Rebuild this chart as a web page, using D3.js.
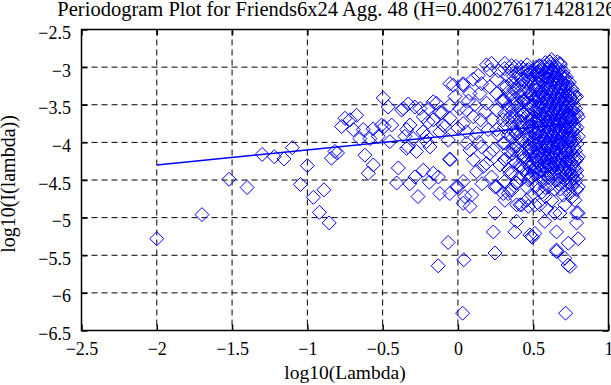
<!DOCTYPE html>
<html>
<head>
<meta charset="utf-8">
<script src="https://cdn.jsdelivr.net/npm/d3@7"></script>
<style>
  body { margin: 0; background: #fff; }
  svg { display: block; }
  text { font-family: "Liberation Serif", "Times New Roman", serif; fill: #000; }
</style>
</head>
<body>
<div id="chart"></div>
<script>
const titleText = "Periodogram Plot for Friends6x24 Agg. 48 (H=0.4002761714281263)";
const xLabel = "log10(Lambda)";
const yLabel = "log10(I(lambda))";
const xTicks = [-2.5, -2, -1.5, -1, -0.5, 0, 0.5, 1];
const yTicks = [-2.5, -3, -3.5, -4, -4.5, -5, -5.5, -6, -6.5];

// sparse low frequencies, [log10(lambda), log10(I)]
const lowFreq = [
  [-2.00,-5.28],[-1.70,-4.96],[-1.52,-4.49],[-1.40,-4.60],[-1.30,-4.16],[-1.22,-4.19],
  [-1.155,-4.22],[-1.10,-4.07],[-1.046,-4.56],[-1.00,-4.31],[-0.96,-4.73],[-0.92,-4.93],
  [-0.89,-4.63],[-0.855,-5.07],[-0.84,-4.21],[-0.817,-4.12],[-0.80,-4.14],[-0.773,-3.79],
  [-0.75,-3.68],[-0.717,-3.70],[-0.695,-3.83],[-0.673,-3.64],[-0.651,-3.95],[-0.629,-3.83],
  [-0.618,-4.17],[-0.595,-4.41],[-0.584,-3.95],[-0.563,-3.82],[-0.562,-4.30],[-0.529,-3.92],
  [-0.507,-3.77],[-0.496,-3.41],[-0.49,-3.79],[-0.463,-3.53],[-0.452,-3.99],[-0.44,-3.77],
  [-0.407,-4.54],[-0.396,-4.34],[-0.374,-3.57],[-0.363,-3.55],[-0.352,-3.92],[-0.341,-4.08],
  [-0.34,-3.83],[-0.33,-4.06],[-0.32,-4.55],[-0.319,-3.77],[-0.33,-3.49],[-0.297,-3.95],
  [-0.286,-4.46],[-0.286,-3.53],[-0.275,-4.12],[-0.265,-4.72],[-0.252,-3.55],[-0.231,-3.86],
  [-0.23,-3.66],[-0.23,-4.37],[-0.209,-3.99],[-0.208,-3.92],[-0.197,-3.73],[-0.197,-3.55],
  [-0.19,-4.53],[-0.186,-4.06],[-0.164,-3.46],[-0.164,-3.70],[-0.164,-4.41],[-0.142,-3.48],
  [-0.131,-5.64],[-0.13,-4.46],[-0.12,-3.60],[-0.12,-3.86],[-0.12,-4.68],[-0.108,-3.61],
  [-0.098,-3.77],[-0.086,-3.79],[-0.065,-5.33],[-0.064,-3.97],[-0.054,-3.68],[-0.054,-3.51],
  [-0.054,-4.22],[-0.054,-4.68],[-0.053,-3.22],[-0.053,-4.23],[-0.031,-3.24],[-0.02,-3.39],
  [-0.009,-4.59],[0.0,-3.81]
];

// middle frequencies, read one by one
const midFreq = [
  [0.035,-3.24],[0.012,-3.55],[0.035,-3.22],[0.057,-3.86],[0.039,-5.56],[0.031,-6.27],
  [0.035,-4.81],[0.046,-4.72],[0.035,-4.52],[0.0,-4.59],[0.08,-4.85],[0.091,-4.70],
  [0.102,-3.16],[0.08,-3.35],[0.146,-3.35],[0.157,-3.22],[0.19,-2.97],[0.223,-2.95],
  [0.212,-3.04],[0.212,-3.26],[0.257,-3.17],[0.19,-3.48],[0.257,-3.57],[0.057,-3.57],
  [0.035,-3.75],[0.102,-3.66],[0.124,-3.88],[0.201,-3.83],[0.057,-4.01],[0.157,-4.06],
  [0.235,-4.10],[0.19,-4.28],[0.168,-4.32],[0.102,-4.23],[0.124,-4.39],[0.223,-4.46],
  [0.257,-4.59],[0.246,-4.94],[0.235,-5.19],[0.246,-5.47],[0.246,-4.59],[0.257,-3.35],
  [0.257,-3.83],[0.135,-3.11],[0.07,-3.45],[0.11,-3.50],[0.15,-3.70],[0.18,-3.60],
  [0.23,-3.70],[0.27,-3.90],[0.28,-4.30],[0.21,-4.15],[0.14,-4.00],[0.08,-4.10],
  [0.29,-3.45],[0.16,-4.55],[0.27,-3.05],
  [0.312,-2.95],[0.356,-2.98],[0.39,-3.08],[0.323,-3.26],[0.301,-3.44],[0.301,-3.70],
  [0.301,-4.01],[0.312,-4.23],[0.312,-4.77],[0.334,-4.68],[0.301,-4.68],[0.345,-4.63],
  [0.345,-4.41],[0.39,-4.54],[0.39,-4.83],[0.423,-4.83],[0.456,-4.77],[0.467,-4.85],
  [0.412,-4.83],[0.39,-5.05],[0.378,-5.19],[0.478,-5.23],[0.489,-5.25],[0.495,-5.26],
  [0.489,-4.46],[0.478,-4.48],[0.493,-4.45],[0.511,-4.83],[0.489,-4.70],[0.434,-4.23],
  [0.345,-3.66],[0.39,-3.48],[0.434,-3.44],[0.456,-3.22],[0.423,-3.73],[0.478,-3.79],
  [0.478,-4.06],[0.39,-3.88],[0.367,-4.10],[0.456,-3.04]
];

// dense upper band, each column: [log10(lambda), [log10(I) values]]
const denseCols = [
  [0.31, [-3.02,-3.26,-3.44,-3.62,-3.80,-4.01,-4.23,-4.52]],
  [0.335,[-3.12,-3.33,-3.52,-3.70,-3.90,-4.12,-4.36]],
  [0.36, [-3.05,-3.20,-3.40,-3.58,-3.76,-3.95,-4.15,-4.41,-4.63]],
  [0.37, [-3.12,-3.30,-3.49,-3.67,-3.86,-4.05,-4.25]],
  [0.385,[-2.99,-3.15,-3.30,-3.49,-3.67,-3.86,-4.05,-4.27,-4.54]],
  [0.41, [-3.09,-3.24,-3.38,-3.56,-3.72,-3.91,-4.10,-4.30,-4.47]],
  [0.42, [-3.00,-3.16,-3.31,-3.47,-3.64,-3.80,-3.96,-4.14,-4.32]],
  [0.435,[-3.03,-3.18,-3.33,-3.46,-3.63,-3.81,-3.99,-4.19,-4.36]],
  [0.46, [-2.97,-3.11,-3.27,-3.42,-3.57,-3.74,-3.90,-4.08,-4.25,-4.42,-4.60]],
  [0.47, [-3.03,-3.17,-3.31,-3.48,-3.63,-3.79,-3.95,-4.12,-4.29,-4.50]],
  [0.48, [-3.07,-3.20,-3.36,-3.52,-3.69,-3.84,-4.02,-4.17,-4.33]],
  [0.50, [-3.05,-3.22,-3.38,-3.51,-3.67,-3.80,-3.96,-4.12,-4.27,-4.40]],
  [0.51, [-3.10,-3.27,-3.44,-3.59,-3.73,-3.88,-4.04,-4.20,-4.35]],
  [0.52, [-3.00,-3.15,-3.31,-3.46,-3.60,-3.74,-3.89,-4.03,-4.19,-4.33,-4.58]],
  [0.53, [-3.06,-3.22,-3.37,-3.53,-3.66,-3.81,-3.95,-4.10,-4.26,-4.41]],
  [0.54, [-2.98,-3.10,-3.27,-3.41,-3.55,-3.70,-3.85,-3.99,-4.14,-4.29,-4.45]],
  [0.55, [-3.03,-3.16,-3.33,-3.47,-3.62,-3.76,-3.91,-4.06,-4.21,-4.36]],
  [0.56, [-3.04,-3.19,-3.34,-3.48,-3.63,-3.77,-3.92,-4.07,-4.22,-4.38,-4.52,-4.66]],
  [0.57, [-2.99,-3.12,-3.27,-3.41,-3.56,-3.70,-3.85,-4.00,-4.15,-4.30,-4.47]],
  [0.58, [-2.94,-3.12,-3.25,-3.40,-3.53,-3.69,-3.83,-3.97,-4.11,-4.26,-4.42,-4.60,-4.72]],
  [0.59, [-3.07,-3.21,-3.36,-3.49,-3.63,-3.78,-3.92,-4.07,-4.21,-4.37]],
  [0.60, [-3.02,-3.17,-3.30,-3.45,-3.58,-3.72,-3.87,-4.01,-4.16,-4.31,-4.47]],
  [0.61, [-3.00,-3.13,-3.27,-3.41,-3.55,-3.69,-3.83,-3.98,-4.13,-4.28,-4.42]],
  [0.62, [-2.96,-3.09,-3.23,-3.37,-3.50,-3.65,-3.79,-3.94,-4.08,-4.23,-4.36,-4.55]],
  [0.63, [-3.05,-3.19,-3.33,-3.47,-3.60,-3.75,-3.90,-4.04,-4.18,-4.33]],
  [0.64, [-3.01,-3.14,-3.28,-3.43,-3.56,-3.71,-3.85,-3.99,-4.13,-4.28,-4.43,-4.62]],
  [0.65, [-2.98,-3.11,-3.25,-3.39,-3.53,-3.67,-3.81,-3.95,-4.10,-4.24,-4.39]],
  [0.66, [-2.93,-3.07,-3.20,-3.35,-3.49,-3.62,-3.76,-3.90,-4.05,-4.19,-4.34,-4.50]],
  [0.67, [-3.03,-3.16,-3.30,-3.44,-3.58,-3.72,-3.86,-4.00,-4.15,-4.29,-4.45]],
  [0.68, [-2.97,-3.11,-3.26,-3.39,-3.54,-3.68,-3.82,-3.96,-4.10,-4.25,-4.40,-4.62]],
  [0.69, [-3.08,-3.23,-3.37,-3.51,-3.65,-3.79,-3.93,-4.07,-4.22,-4.36]],
  [0.70, [-3.06,-3.21,-3.33,-3.47,-3.61,-3.75,-3.89,-4.04,-4.17,-4.32,-4.46,-4.70]],
  [0.71, [-3.15,-3.30,-3.44,-3.58,-3.72,-3.87,-4.01,-4.15,-4.30,-4.50]],
  [0.72, [-3.13,-3.27,-3.42,-3.55,-3.70,-3.84,-3.98,-4.12,-4.27,-4.41,-4.56]],
  [0.73, [-3.22,-3.38,-3.52,-3.66,-3.80,-3.95,-4.09,-4.24,-4.39]],
  [0.74, [-3.20,-3.34,-3.48,-3.63,-3.77,-3.91,-4.06,-4.21,-4.35,-4.49,-4.68]],
  [0.75, [-3.28,-3.41,-3.55,-3.69,-3.83,-3.97,-4.12,-4.26,-4.41,-4.55]],
  [0.76, [-3.30,-3.44,-3.58,-3.72,-3.86,-4.00,-4.15,-4.29,-4.44,-4.58,-4.72]],
  [0.77, [-3.36,-3.50,-3.64,-3.78,-3.92,-4.06,-4.20,-4.34,-4.48]],
  [0.78, [-3.40,-3.55,-3.69,-3.83,-3.97,-4.11,-4.25,-4.39,-4.52]],
  [0.79, [-3.62,-3.80,-4.02,-4.22,-4.45]]
];

// extra points inside the solid core of the cloud
const coreCols = [
  [0.525,[-3.08,-3.40,-3.70,-3.98,-4.24]],
  [0.565,[-3.10,-3.38,-3.66,-3.95,-4.18]],
  [0.595,[-3.14,-3.43,-3.74,-4.04,-4.28]],
  [0.625,[-3.06,-3.34,-3.62,-3.92,-4.20]],
  [0.655,[-3.13,-3.41,-3.70,-3.99,-4.27]],
  [0.685,[-3.18,-3.46,-3.74,-4.02,-4.30]],
  [0.715,[-3.24,-3.52,-3.80,-4.09,-4.36]],
  [0.745,[-3.38,-3.66,-3.94,-4.18]]
];

// high frequency outliers around the dense band
const highFreq = [
  [0.544,-2.99],[0.611,-2.93],[0.677,-2.95],[0.622,-2.90],[0.70,-3.13],[0.788,-3.39],
  [0.799,-3.66],[0.799,-3.92],[0.799,-4.19],[0.788,-4.37],[0.788,-4.63],[0.799,-4.59],
  [0.799,-4.94],[0.788,-5.07],[0.799,-5.28],[0.733,-5.34],[0.71,-5.54],[0.732,-5.63],
  [0.744,-5.65],[0.715,-6.27],[0.655,-5.45],[0.655,-5.19],[0.577,-5.05],[0.511,-5.21],
  [0.788,-4.94],[0.644,-4.94],[0.544,-4.83],[0.622,-4.77],[0.71,-4.83],[0.777,-4.77],
  [0.533,-4.63],[0.60,-4.59],[0.732,-4.63],[0.589,-4.88],[0.677,-4.94],[0.655,-5.43],
  [0.67,-4.55]
];

// least squares line, slope 1-2H
const fitLine = [[-2.0, -4.30], [0.8, -3.74]];

const width = 611, height = 385;
const margins = { top: 29.5, right: 2.5, bottom: 54.5, left: 81.5 };
const plotW = width - margins.left - margins.right;
const plotH = height - margins.top - margins.bottom;

const svg = d3.select("#chart").append("svg")
  .attr("width", width)
  .attr("height", height);

const g = svg.append("g")
  .attr("transform", "translate(" + margins.left + "," + margins.top + ")");

const x = d3.scaleLinear().domain([-2.5, 1]).range([0, plotW]);
const y = d3.scaleLinear().domain([-6.5, -2.5]).range([plotH, 0]);

const fmt = d => String(d).replace("-", "\u2212");

// dashed grid
g.append("g").selectAll("line")
  .data(xTicks.slice(1, -1))
  .enter().append("line")
  .attr("x1", d => x(d)).attr("x2", d => x(d))
  .attr("y1", 0).attr("y2", plotH)
  .attr("stroke", "#000").attr("stroke-dasharray", "6,4");

g.append("g").selectAll("line")
  .data(yTicks.slice(1, -1))
  .enter().append("line")
  .attr("x1", 0).attr("x2", plotW)
  .attr("y1", d => y(d)).attr("y2", d => y(d))
  .attr("stroke", "#000").attr("stroke-dasharray", "6,4");

// markers
const allPoints = lowFreq.concat(midFreq, highFreq);
denseCols.concat(coreCols).forEach(c => c[1].forEach(v => allPoints.push([c[0], v])));

g.append("g").selectAll("path")
  .data(allPoints)
  .enter().append("path")
  .attr("d", "M0,-7L7,0L0,7L-7,0Z")
  .attr("transform", d => "translate(" + x(d[0]) + "," + y(d[1]) + ")")
  .attr("fill", "none")
  .attr("stroke", "#0000ff")
  .attr("stroke-width", 1);

// fitted line
g.append("path")
  .datum(fitLine)
  .attr("d", d3.line().x(d => x(d[0])).y(d => y(d[1])))
  .attr("stroke", "#0000ff")
  .attr("stroke-width", 1.5)
  .attr("fill", "none");

// axes with inner ticks on all four sides
const tickLen = 6;
g.append("g").attr("transform", "translate(0," + plotH + ")")
  .call(d3.axisBottom(x).tickValues(xTicks).tickSizeInner(-tickLen).tickSizeOuter(0).tickFormat(fmt))
  .call(a => a.select(".domain").remove())
  .call(a => a.selectAll("text").attr("y", 24).attr("dy", 0).style("font-size", "18px"));

g.append("g")
  .call(d3.axisTop(x).tickValues(xTicks).tickSizeInner(-tickLen).tickSizeOuter(0).tickFormat(""))
  .call(a => a.select(".domain").remove());

g.append("g")
  .call(d3.axisLeft(y).tickValues(yTicks).tickSizeInner(-tickLen).tickSizeOuter(0).tickFormat(fmt))
  .call(a => a.select(".domain").remove())
  .call(a => a.selectAll("text").attr("x", -10.5).attr("dy", "0.5em").style("font-size", "18px"));

g.append("g").attr("transform", "translate(" + plotW + ",0)")
  .call(d3.axisRight(y).tickValues(yTicks).tickSizeInner(-tickLen).tickSizeOuter(0).tickFormat(""))
  .call(a => a.select(".domain").remove());

g.selectAll(".tick line").attr("stroke", "#000").attr("stroke-width", 1.5);

// frame
g.append("rect")
  .attr("width", plotW).attr("height", plotH)
  .attr("fill", "none").attr("stroke", "#000").attr("stroke-width", 1.5);

// title and labels
svg.append("text")
  .attr("x", margins.left + plotW / 2).attr("y", 16)
  .attr("text-anchor", "middle")
  .style("font-size", "20.5px")
  .text(titleText);

svg.append("text")
  .attr("x", margins.left + plotW / 2).attr("y", 379)
  .attr("text-anchor", "middle")
  .style("font-size", "19.5px")
  .text(xLabel);

svg.append("text")
  .attr("transform", "rotate(-90)")
  .attr("x", -184).attr("y", 15)
  .attr("text-anchor", "middle")
  .style("font-size", "20px")
  .text(yLabel);
</script>
</body>
</html>
